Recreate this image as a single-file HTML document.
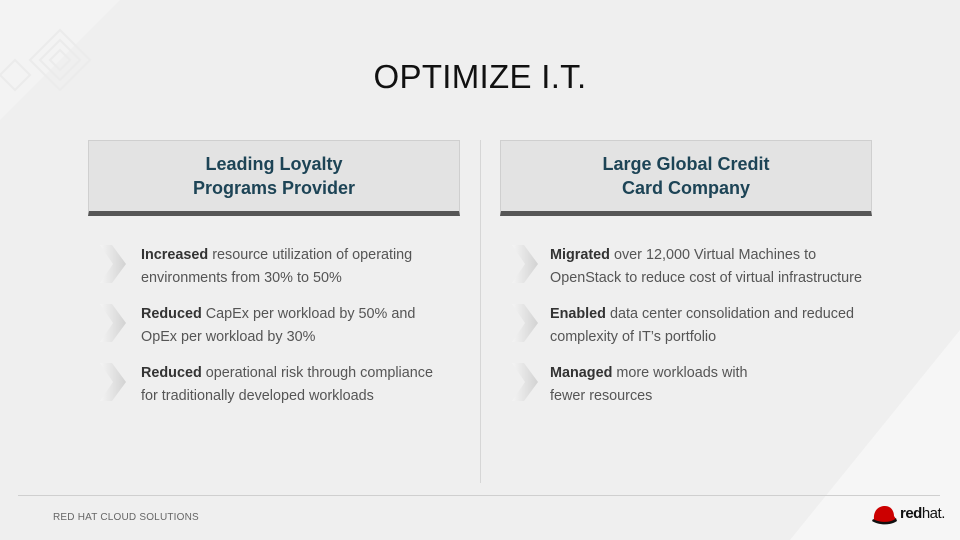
<!DOCTYPE html>
<html><head><meta charset="utf-8"><style>
*{margin:0;padding:0;box-sizing:border-box}
body{width:960px;height:540px;overflow:hidden;background:#efefef;font-family:"Liberation Sans",sans-serif;position:relative}
.bgtri{position:absolute;left:0;top:0;width:960px;height:540px}
.title{position:absolute;top:58px;left:0;width:960px;text-align:center;font-size:33px;color:#111;letter-spacing:0.3px}
.box{position:absolute;top:140px;width:372px;height:76px;background:#e3e3e3;border:1px solid #cfcfcf;border-bottom:5px solid #565656;text-align:center;color:#1d4456;font-weight:bold;font-size:18px;line-height:24px;padding-top:11px}
.vl{position:absolute;left:480px;top:140px;width:1px;height:343px;background:#d6d6d6}
.b{position:absolute;font-size:14.4px;color:#555;line-height:23px;white-space:nowrap}
.b b{color:#333}
.foot{position:absolute;left:18px;top:495px;width:922px;height:1px;background:#cfcfcf}
.ft{position:absolute;left:53px;top:512px;font-size:10px;color:#666;letter-spacing:0.2px}
.rh{position:absolute;left:900px;top:505px;font-size:15px;color:#111;font-weight:bold;letter-spacing:-0.5px}
</style></head><body>
<svg class="bgtri" viewBox="0 0 960 540">
<polygon points="0,0 120,0 0,120" fill="#f3f3f3"/>
<g fill="none" stroke="#ebebeb" stroke-width="2">
<path d="M30,60 l30,-30 l30,30 l-30,30z M40,60 l20,-20 l20,20 l-20,20z M50,60 l10,-10 l10,10 l-10,10z"/>
<path d="M0,75 l15,-15 l15,15 l-15,15z"/>
</g>
<polygon points="960,330 960,540 790,540" fill="#f6f6f6"/>
</svg>
<div class="title">OPTIMIZE I.T.</div>
<div class="box" style="left:88px">Leading Loyalty<br>Programs Provider</div>
<div class="box" style="left:500px">Large Global Credit<br>Card Company</div>
<div class="vl"></div>
<svg style="position:absolute;left:0;top:0" width="960" height="540">
<defs><linearGradient id="g" x1="0" x2="1"><stop offset="0" stop-color="#f4f4f4"/><stop offset="1" stop-color="#d2d2d2"/></linearGradient></defs>
<g fill="url(#g)">
<polygon points="100,245 112,245 126,264 112,283 100,283 113,264"/>
<polygon points="100,304 112,304 126,323 112,342 100,342 113,323"/>
<polygon points="100,363 112,363 126,382 112,401 100,401 113,382"/>
<polygon points="512,245 524,245 538,264 524,283 512,283 525,264"/>
<polygon points="512,304 524,304 538,323 524,342 512,342 525,323"/>
<polygon points="512,363 524,363 538,382 524,401 512,401 525,382"/>
</g>
<g transform="translate(884,516)">
<path d="M-10,4 C-11,-6 -5,-10 1,-10 C7,-10 10,-5 10,0 L12,3 C8,7 -4,8 -10,4z" fill="#cc0000"/>
<path d="M-11,3 C-4,7 8,7 12,2 L13,5 C6,10 -6,9 -12,5z" fill="#111"/>
</g>
</svg>
<div class="b" style="left:141px;top:244px"><b>Increased</b> resource utilization of operating<br>environments from 30% to 50%</div>
<div class="b" style="left:141px;top:303px"><b>Reduced</b> CapEx per workload by 50% and<br>OpEx per workload by 30%</div>
<div class="b" style="left:141px;top:362px"><b>Reduced</b> operational risk through compliance<br>for traditionally developed workloads</div>
<div class="b" style="left:550px;top:244px"><b>Migrated</b> over 12,000 Virtual Machines to<br>OpenStack to reduce cost of virtual infrastructure</div>
<div class="b" style="left:550px;top:303px"><b>Enabled</b> data center consolidation and reduced<br>complexity of IT’s portfolio</div>
<div class="b" style="left:550px;top:362px"><b>Managed</b> more workloads with<br>fewer resources</div>
<div class="foot"></div>
<div class="ft">RED HAT CLOUD SOLUTIONS</div>
<div class="rh">red<span style="font-weight:normal">hat.</span></div>
</body></html>
